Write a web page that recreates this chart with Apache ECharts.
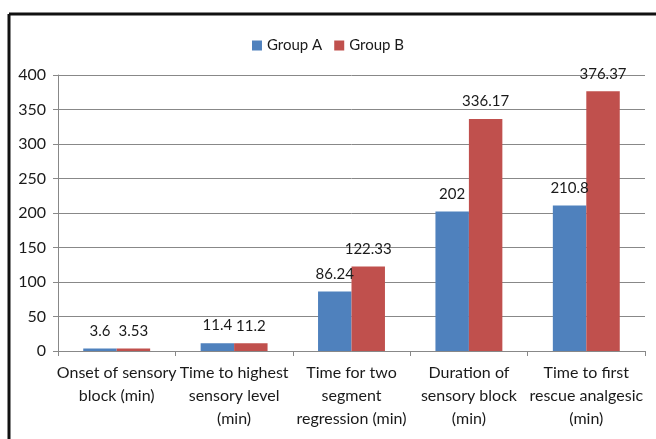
<!DOCTYPE html>
<html><head><meta charset="utf-8">
<script src="https://cdn.jsdelivr.net/npm/echarts@6/dist/echarts.min.js"></script>
<style>html,body{margin:0;padding:0;background:#fff}#c{width:656px;height:439px}</style>
</head><body><div id="c"></div>
<script>
const categories = ["Onset of sensory\nblock (min)", "Time to highest\nsensory level\n(min)", "Time for two\nsegment\nregression (min)", "Duration of\nsensory block\n(min)", "Time to first\nrescue analgesic\n(min)"];
const groupA = [3.6, 11.4, 86.24, 202, 210.8];
const groupB = [3.53, 11.2, 122.33, 336.17, 376.37];
const yTicks = {min: 0, max: 400, interval: 50};
const FONT = "Lato,'Open Sans',sans-serif";
const chart = echarts.init(document.getElementById('c'), null, {renderer: 'canvas'});
const lbl = {show: true, position: 'top', distance: 10, color: '#1a1a1a', fontSize: 15, fontFamily: FONT};
chart.setOption({
  backgroundColor: '#fff',
  animation: false,
  graphic: [
    {type: 'line', shape: {x1: 9, y1: 14, x2: 656, y2: 14}, style: {stroke: '#111', lineWidth: 3}},
    {type: 'line', shape: {x1: 9, y1: 14, x2: 9, y2: 439}, style: {stroke: '#111', lineWidth: 3}}
  ],
  legend: {
    top: 33, left: 'center', itemWidth: 10, itemHeight: 10, itemGap: 12,
    icon: 'rect',
    textStyle: {fontSize: 15, fontFamily: FONT, color: '#1a1a1a'},
    data: ['Group A', 'Group B']
  },
  grid: {left: 58, right: 11, top: 75, bottom: 88, containLabel: false},
  xAxis: {
    type: 'category', data: categories,
    axisLine: {lineStyle: {color: '#888'}},
    axisTick: {show: true, length: 5, lineStyle: {color: '#888'}},
    axisLabel: {interval: 0, fontSize: 16, lineHeight: 23, color: '#1a1a1a', fontFamily: FONT, margin: 10}
  },
  yAxis: {
    type: 'value', min: yTicks.min, max: yTicks.max, interval: yTicks.interval,
    axisLine: {show: true, lineStyle: {color: '#888'}},
    axisTick: {show: true, length: 5, inside: false, lineStyle: {color: '#888'}},
    splitLine: {lineStyle: {color: '#888'}},
    axisLabel: {fontSize: 16, color: '#1a1a1a', fontFamily: FONT, margin: 12}
  },
  series: [
    {name: 'Group A', type: 'bar', data: groupA, barGap: '0%', barCategoryGap: '43%',
     itemStyle: {color: '#4F81BD'}, label: lbl},
    {name: 'Group B', type: 'bar', data: groupB,
     itemStyle: {color: '#C0504D'}, label: lbl}
  ]
});
</script></body></html>
